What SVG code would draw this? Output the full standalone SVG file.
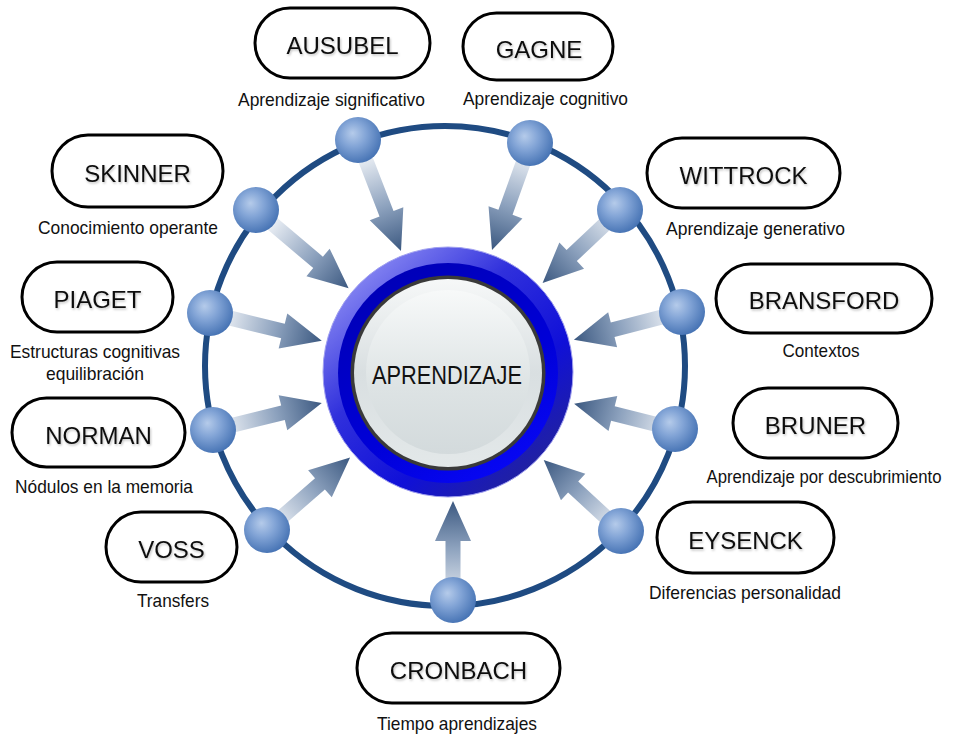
<svg xmlns="http://www.w3.org/2000/svg" width="953" height="736" viewBox="0 0 953 736">
<defs>
  <style>
    .box{fill:#fff;stroke:#000;stroke-width:3}
    .name{font-family:"Liberation Sans",Arial,sans-serif;font-size:24px;fill:#111;text-anchor:middle;filter:url(#ts)}
    .lbl{font-family:"Liberation Sans",Arial,sans-serif;font-size:19px;fill:#111;text-anchor:middle}
    .ball{fill:url(#ballG)}
    .arrow{fill:url(#arrG)}
  </style>
  <filter id="ts" x="-10%" y="-30%" width="120%" height="160%">
    <feDropShadow dx="1" dy="1.5" stdDeviation="1" flood-color="#000" flood-opacity="0.25"/>
  </filter>
  <radialGradient id="ballG" cx="0.42" cy="0.4" r="0.62" fx="0.38" fy="0.35">
    <stop offset="0" stop-color="#b5cbea"/>
    <stop offset="0.45" stop-color="#82a4d6"/>
    <stop offset="1" stop-color="#4673b4"/>
  </radialGradient>
  <linearGradient id="arrG" gradientUnits="userSpaceOnUse" x1="-105" y1="0" x2="0" y2="0">
    <stop offset="0" stop-color="#f2f5f9"/>
    <stop offset="0.55" stop-color="#8da2be"/>
    <stop offset="1" stop-color="#3b5880"/>
  </linearGradient>
  <path id="arr" d="M0,0 L-40,-18 L-40,-7.5 L-118,-7.5 L-118,7.5 L-40,7.5 L-40,18 Z"/>
  <linearGradient id="outerG" x1="0.15" y1="0.1" x2="0.85" y2="0.9">
    <stop offset="0" stop-color="#8686f2"/>
    <stop offset="0.35" stop-color="#3030dc"/>
    <stop offset="0.7" stop-color="#1010d8"/>
    <stop offset="1" stop-color="#22229e"/>
  </linearGradient>
  <linearGradient id="bandG" x1="0.2" y1="0" x2="0.8" y2="1">
    <stop offset="0" stop-color="#0000b4"/>
    <stop offset="0.6" stop-color="#0000d8"/>
    <stop offset="1" stop-color="#0808f8"/>
  </linearGradient>
  <linearGradient id="faceG" x1="0" y1="0" x2="0" y2="1">
    <stop offset="0" stop-color="#f6f8f8"/>
    <stop offset="0.5" stop-color="#d9dfe1"/>
    <stop offset="1" stop-color="#e3e8e9"/>
  </linearGradient>
  <linearGradient id="hiG" x1="0" y1="0" x2="0" y2="1">
    <stop offset="0" stop-color="#f7f9f9"/>
    <stop offset="0.6" stop-color="#dde3e4"/>
    <stop offset="1" stop-color="#d3dadc"/>
  </linearGradient>
</defs>
<rect width="953" height="736" fill="#fff"/>

<g id="ring">
  <circle cx="445" cy="366" r="240" fill="none" stroke="#1f4b82" stroke-width="6"/>
</g>

<g id="connectors">
  <use href="#arr" class="arrow" transform="translate(401,251) rotate(68.8)"/>
  <use href="#arr" class="arrow" transform="translate(492,250) rotate(109.7)"/>
  <use href="#arr" class="arrow" transform="translate(348.6,288.2) rotate(40.2)"/>
  <use href="#arr" class="arrow" transform="translate(542.6,283) rotate(136.7)"/>
  <use href="#arr" class="arrow" transform="translate(321.8,340.7) rotate(13.9)"/>
  <use href="#arr" class="arrow" transform="translate(321.8,403.1) rotate(-13.9)"/>
  <use href="#arr" class="arrow" transform="translate(350.1,457.5) rotate(-41.1)"/>
  <use href="#arr" class="arrow" transform="translate(453,501) rotate(-90)"/>
  <use href="#arr" class="arrow" transform="translate(543.7,460) rotate(-137.4)"/>
  <use href="#arr" class="arrow" transform="translate(574.1,403.7) rotate(-165.9)"/>
  <use href="#arr" class="arrow" transform="translate(573.9,339.7) rotate(165.6)"/>
</g>

<g id="balls">
  <circle class="ball" cx="358" cy="140" r="23"/>
  <circle class="ball" cx="530" cy="143" r="23"/>
  <circle class="ball" cx="256" cy="210" r="23"/>
  <circle class="ball" cx="620" cy="210" r="23"/>
  <circle class="ball" cx="210" cy="313" r="23"/>
  <circle class="ball" cx="213" cy="430" r="23"/>
  <circle class="ball" cx="267" cy="530" r="23"/>
  <circle class="ball" cx="453" cy="600" r="23"/>
  <circle class="ball" cx="621" cy="531" r="23"/>
  <circle class="ball" cx="675" cy="429" r="23"/>
  <circle class="ball" cx="682" cy="312" r="23"/>
</g>

<g id="aprendizaje">
  <circle cx="448" cy="372" r="125" fill="url(#outerG)" stroke="#a0a0f0" stroke-width="1"/>
  <circle cx="448" cy="373" r="110" fill="url(#bandG)"/>
  <circle cx="448" cy="373" r="97.5" fill="#3a3a3a"/>
  <circle cx="448" cy="373" r="94" fill="url(#faceG)"/>
  <circle cx="448" cy="372" r="82" fill="url(#hiG)"/>
  <text x="447" y="384" font-family="Liberation Sans, Arial, sans-serif" font-size="25" fill="#111" text-anchor="middle" textLength="150" lengthAdjust="spacingAndGlyphs">APRENDIZAJE</text>
</g>

<g id="ausubel">
  <rect class="box" x="255" y="8" width="175" height="70" rx="35"/>
  <text class="name" x="342.5" y="54">AUSUBEL</text>
  <text class="lbl" x="331.5" y="106" textLength="187" lengthAdjust="spacingAndGlyphs">Aprendizaje significativo</text>
</g>
<g id="gagne">
  <rect class="box" x="463" y="13" width="150" height="67" rx="33.5"/>
  <text class="name" x="539" y="58">GAGNE</text>
  <text class="lbl" x="545.5" y="105" textLength="165" lengthAdjust="spacingAndGlyphs">Aprendizaje cognitivo</text>
</g>
<g id="skinner">
  <rect class="box" x="52" y="135" width="171" height="72" rx="36"/>
  <text class="name" x="137.5" y="182">SKINNER</text>
  <text class="lbl" x="128" y="234" textLength="180" lengthAdjust="spacingAndGlyphs">Conocimiento operante</text>
</g>
<g id="wittrock">
  <rect class="box" x="647" y="138" width="193" height="70" rx="35"/>
  <text class="name" x="743.5" y="184">WITTROCK</text>
  <text class="lbl" x="755.5" y="235" textLength="179" lengthAdjust="spacingAndGlyphs">Aprendizaje generativo</text>
</g>
<g id="piaget">
  <rect class="box" x="22" y="262" width="151" height="70" rx="35"/>
  <text class="name" x="97.5" y="308">PIAGET</text>
  <text class="lbl" x="95" y="358" textLength="170" lengthAdjust="spacingAndGlyphs">Estructuras cognitivas</text>
  <text class="lbl" x="95" y="380" textLength="98" lengthAdjust="spacingAndGlyphs">equilibración</text>
</g>
<g id="bransford">
  <rect class="box" x="716" y="264" width="216" height="69" rx="34.5"/>
  <text class="name" x="824" y="309">BRANSFORD</text>
  <text class="lbl" x="821" y="357" textLength="77" lengthAdjust="spacingAndGlyphs">Contextos</text>
</g>
<g id="norman">
  <rect class="box" x="12" y="398" width="173" height="69" rx="34.5"/>
  <text class="name" x="98.5" y="444">NORMAN</text>
  <text class="lbl" x="104" y="493" textLength="178" lengthAdjust="spacingAndGlyphs">Nódulos en la memoria</text>
</g>
<g id="bruner">
  <rect class="box" x="733" y="388" width="165" height="70" rx="35"/>
  <text class="name" x="815.5" y="434">BRUNER</text>
  <text class="lbl" transform="translate(824,483) scale(0.88,1)" x="0" y="0">Aprendizaje por descubrimiento</text>
</g>
<g id="voss">
  <rect class="box" x="106" y="512" width="131" height="70" rx="35"/>
  <text class="name" x="171.5" y="558">VOSS</text>
  <text class="lbl" x="173" y="607" textLength="72" lengthAdjust="spacingAndGlyphs">Transfers</text>
</g>
<g id="eysenck">
  <rect class="box" x="657" y="502" width="177" height="71" rx="35.5"/>
  <text class="name" x="745.5" y="549">EYSENCK</text>
  <text class="lbl" x="745" y="599" textLength="192" lengthAdjust="spacingAndGlyphs">Diferencias personalidad</text>
</g>
<g id="cronbach">
  <rect class="box" x="357" y="633" width="203" height="70" rx="35"/>
  <text class="name" x="458.5" y="679">CRONBACH</text>
  <text class="lbl" x="457" y="730" textLength="160" lengthAdjust="spacingAndGlyphs">Tiempo aprendizajes</text>
</g>
</svg>
